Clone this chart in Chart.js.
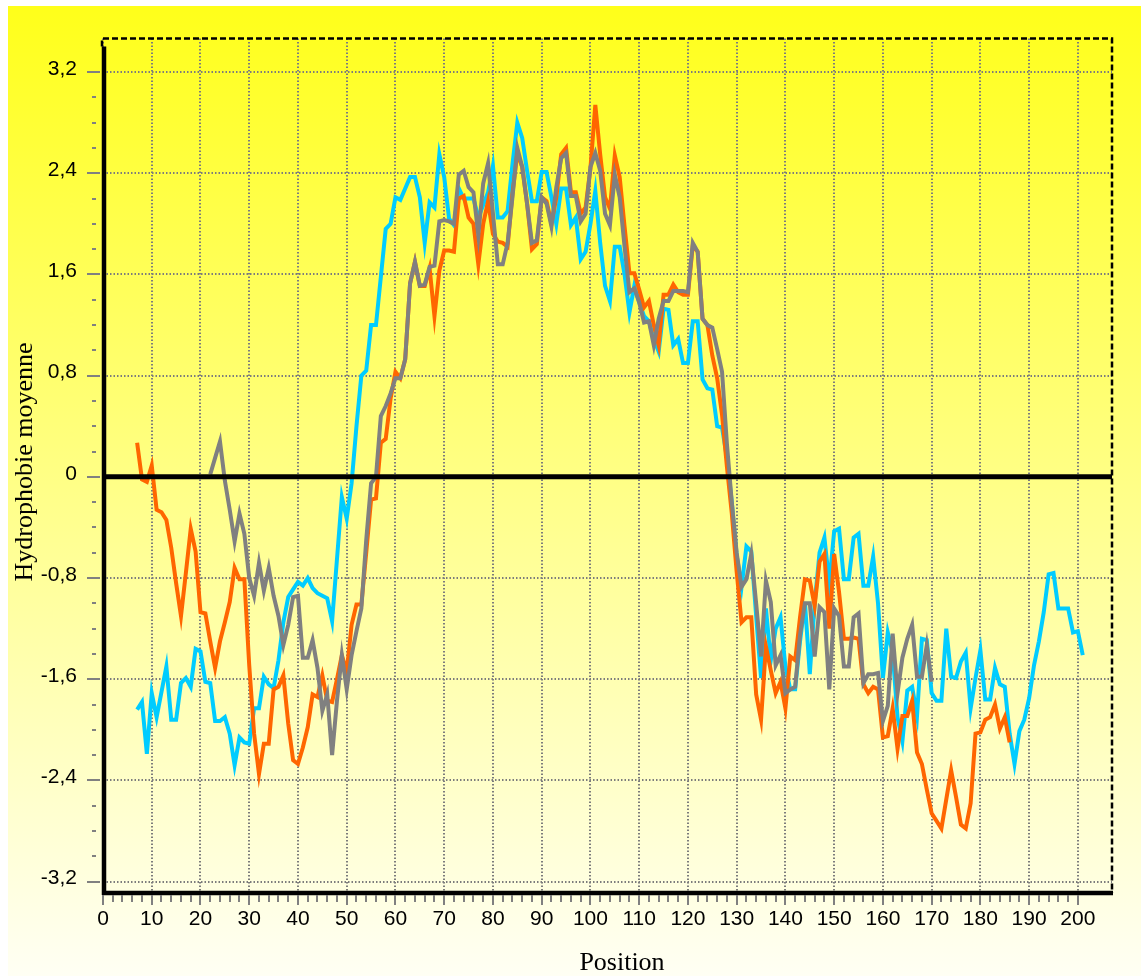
<!DOCTYPE html>
<html lang="fr">
<head>
<meta charset="utf-8">
<title>Hydrophobie moyenne</title>
<script src="https://cdn.jsdelivr.net/npm/chart.js@4.4.1/dist/chart.umd.min.js"></script>
<style>
    html, body { margin: 0; padding: 0; background: #fff; }
    #chart { display: block; }
</style>
</head>
<body>
<canvas id="chart" width="1141" height="976"></canvas>
<script>
// hydrophobicity profiles, one value per residue position
const orangeStart = 7;
const orangeValues = [
    0.27, -0.02, -0.04, 0.09, -0.26, -0.28, -0.34, -0.56, -0.84, -1.10,
    -0.76, -0.41, -0.59, -1.07, -1.08, -1.30, -1.51, -1.30, -1.15, -0.99,
    -0.72, -0.81, -0.81, -1.49, -2.03, -2.35, -2.11, -2.11, -1.68, -1.66,
    -1.57, -1.95, -2.24, -2.27, -2.14, -1.98, -1.72, -1.74, -1.57, -1.77,
    -1.78, -1.60, -1.41, -1.54, -1.17, -1.01, -1.01, -0.60, -0.18, -0.17,
    0.27, 0.30, 0.62, 0.83, 0.78, 0.93, 1.53, 1.70, 1.51, 1.51,
    1.65, 1.27, 1.63, 1.79, 1.79, 1.78, 2.20, 2.22, 2.05, 2.00,
    1.68, 2.00, 2.18, 1.92, 1.86, 1.85, 1.82, 2.24, 2.56, 2.45,
    2.16, 1.80, 1.84, 2.21, 2.18, 2.00, 2.21, 2.55, 2.60, 2.25,
    2.25, 2.08, 2.13, 2.44, 2.94, 2.55, 2.21, 2.12, 2.54, 2.37,
    1.98, 1.61, 1.61, 1.48, 1.34, 1.39, 1.20, 1.04, 1.44, 1.44,
    1.52, 1.46, 1.44, 1.44, 1.83, 1.78, 1.25, 1.20, 0.96, 0.78,
    0.49, 0.08, -0.29, -0.75, -1.15, -1.11, -1.11, -1.72, -1.92, -1.34,
    -1.53, -1.71, -1.62, -1.83, -1.42, -1.45, -1.11, -0.81, -0.82, -1.02,
    -0.67, -0.61, -1.20, -0.61, -0.91, -1.28, -1.28, -1.27, -1.28, -1.64,
    -1.71, -1.66, -1.68, -2.06, -2.05, -1.83, -2.15, -1.89, -1.89, -1.77,
    -2.18, -2.27, -2.47, -2.66, -2.72, -2.78, -2.55, -2.32, -2.53, -2.75,
    -2.78, -2.58, -2.03, -2.02, -1.92, -1.90, -1.80, -1.99, -1.90, -2.10
];

const cyanStart = 7;
const cyanValues = [
    -1.84, -1.78, -2.19, -1.71, -1.90, -1.70, -1.50, -1.92, -1.92, -1.63,
    -1.59, -1.66, -1.36, -1.38, -1.62, -1.63, -1.93, -1.93, -1.90, -2.03,
    -2.28, -2.06, -2.10, -2.11, -1.83, -1.83, -1.58, -1.64, -1.67, -1.45,
    -1.15, -0.95, -0.89, -0.83, -0.86, -0.80, -0.88, -0.92, -0.94, -0.96,
    -1.14, -0.65, -0.16, -0.33, -0.05, 0.40, 0.80, 0.84, 1.20, 1.20,
    1.58, 1.96, 2.00, 2.21, 2.19, 2.28, 2.37, 2.37, 2.21, 1.85,
    2.17, 2.13, 2.55, 2.37, 2.04, 1.99, 2.28, 2.20, 2.20, 2.20,
    2.05, 2.15, 2.25, 2.46, 2.05, 2.05, 2.10, 2.47, 2.80, 2.68,
    2.42, 2.18, 2.18, 2.41, 2.41, 2.21, 2.00, 2.28, 2.28, 1.99,
    2.05, 1.72, 1.78, 2.00, 2.26, 1.85, 1.51, 1.39, 1.82, 1.82,
    1.60, 1.30, 1.51, 1.38, 1.27, 1.23, 1.09, 0.99, 1.33, 1.32,
    1.04, 1.09, 0.90, 0.90, 1.23, 1.23, 0.77, 0.70, 0.69, 0.40,
    0.39, 0.15, -0.20, -0.62, -0.87, -0.55, -0.59, -1.10, -1.59, -1.04,
    -1.45, -1.20, -1.11, -1.50, -1.68, -1.68, -1.30, -0.99, -1.56, -1.00,
    -0.60, -0.48, -0.84, -0.43, -0.41, -0.81, -0.81, -0.48, -0.45, -0.86,
    -0.86, -0.63, -1.00, -1.59, -1.23, -1.39, -1.90, -2.09, -1.69, -1.66,
    -1.89, -1.28, -1.29, -1.71, -1.77, -1.77, -1.20, -1.58, -1.59, -1.46,
    -1.39, -1.83, -1.59, -1.37, -1.76, -1.76, -1.51, -1.64, -1.66, -2.03,
    -2.27, -2.01, -1.92, -1.75, -1.49, -1.30, -1.07, -0.77, -0.76, -1.04,
    -1.04, -1.04, -1.23, -1.22, -1.41
];

const grayStart = 22;
const grayValues = [
    0.02, 0.15, 0.28, -0.03, -0.26, -0.51, -0.29, -0.45, -0.80, -0.94,
    -0.68, -0.90, -0.72, -0.94, -1.10, -1.33, -1.17, -0.95, -0.94, -1.43,
    -1.43, -1.29, -1.51, -1.85, -1.72, -2.20, -1.77, -1.41, -1.68, -1.41,
    -1.22, -1.04, -0.50, -0.05, 0.00, 0.48, 0.56, 0.66, 0.78, 0.78,
    0.93, 1.53, 1.70, 1.51, 1.52, 1.66, 1.67, 2.02, 2.03, 2.02,
    2.00, 2.39, 2.42, 2.29, 2.25, 1.91, 2.32, 2.48, 2.08, 1.68,
    1.68, 1.85, 2.21, 2.60, 2.45, 2.16, 1.85, 1.87, 2.21, 2.16,
    1.98, 2.29, 2.52, 2.56, 2.22, 2.22, 2.02, 2.08, 2.45, 2.56,
    2.42, 2.08, 1.99, 2.39, 2.21, 1.82, 1.46, 1.49, 1.38, 1.22,
    1.23, 1.04, 1.25, 1.39, 1.39, 1.47, 1.47, 1.47, 1.46, 1.85,
    1.78, 1.25, 1.20, 1.18, 1.01, 0.83, 0.26, -0.20, -0.60, -0.87,
    -0.81, -0.61, -1.00, -1.42, -0.82, -0.99, -1.49, -1.41, -1.71, -1.68,
    -1.66, -1.25, -1.00, -1.00, -1.42, -1.03, -1.07, -1.68, -1.04, -1.10,
    -1.50, -1.50, -1.11, -1.08, -1.63, -1.56, -1.56, -1.55, -1.93, -1.81,
    -1.24, -1.71, -1.43, -1.28, -1.17, -1.58, -1.58, -1.33, -1.62
];

const xTicks = [0, 10, 20, 30, 40, 50, 60, 70, 80, 90, 100, 110, 120, 130, 140, 150, 160, 170, 180, 190, 200];
const yTicks = [-3.2, -2.4, -1.6, -0.8, 0, 0.8, 1.6, 2.4, 3.2];

const toPoints = (start, values) => values.map((v, i) => ({ x: start + i, y: v }));
const frLabel = (v) => v === 0 ? '0' : v.toFixed(1).replace('.', ',');

// yellow gradient behind everything
const backdrop = {
    id: 'backdrop',
    beforeDraw(chart) {
        const { ctx, width, height } = chart;
        ctx.save();
        ctx.fillStyle = '#ffffff';
        ctx.fillRect(0, 0, width, height);
        const grad = ctx.createLinearGradient(0, 6, 0, height);
        grad.addColorStop(0, '#ffff1a');
        grad.addColorStop(0.5, '#ffff88');
        grad.addColorStop(1, '#fffff4');
        ctx.fillStyle = grad;
        ctx.fillRect(8, 6, width - 8, height - 6);
        ctx.restore();
    }
};

// zero line, frame, axis lines, tick marks and axis titles
const frame = {
    id: 'frame',
    afterDraw(chart) {
        const { ctx, chartArea: a, scales: { x, y } } = chart;
        ctx.save();

        const y0 = y.getPixelForValue(0);
        ctx.strokeStyle = '#000';
        ctx.lineWidth = 5;
        ctx.beginPath();
        ctx.moveTo(a.left, y0);
        ctx.lineTo(a.right, y0);
        ctx.stroke();

        ctx.lineWidth = 2.5;
        ctx.setLineDash([6, 3]);
        ctx.beginPath();
        ctx.moveTo(a.left - 1, a.top + 8);
        ctx.lineTo(a.left - 1, a.top);
        ctx.lineTo(a.right, a.top);
        ctx.lineTo(a.right, a.bottom);
        ctx.stroke();
        ctx.setLineDash([]);

        ctx.lineWidth = 4.5;
        ctx.beginPath();
        ctx.moveTo(a.left + 1, a.top + 8);
        ctx.lineTo(a.left + 1, a.bottom + 2);
        ctx.moveTo(a.left - 1, a.bottom);
        ctx.lineTo(a.right + 1, a.bottom);
        ctx.stroke();

        // tick marks
        ctx.strokeStyle = '#808080';
        ctx.lineWidth = 2;
        ctx.beginPath();
        for (let v = 0; v <= 200; v += 2) {
            const px = Math.round(x.getPixelForValue(v));
            ctx.moveTo(px, a.bottom + 2);
            ctx.lineTo(px, a.bottom + (v % 10 === 0 ? 12 : 9));
        }
        for (let k = -16; k <= 16; k++) {
            const py = Math.round(y.getPixelForValue(k * 0.2));
            if (k % 4 === 0) {
                ctx.moveTo(a.left - 16, py);
                ctx.lineTo(a.left - 3, py);
            } else {
                ctx.moveTo(a.left - 11, py);
                ctx.lineTo(a.left - 7, py);
            }
        }
        ctx.stroke();

        // axis titles
        ctx.fillStyle = '#000';
        ctx.font = '26px "Liberation Serif", "Times New Roman", serif';
        ctx.textAlign = 'center';
        ctx.textBaseline = 'alphabetic';
        ctx.fillText('Position', 622, 970);
        ctx.translate(32, 462);
        ctx.rotate(-Math.PI / 2);
        ctx.fillText('Hydrophobie moyenne', 0, 0);

        ctx.restore();
    }
};

const tickFont = { family: '"Liberation Sans", Arial, sans-serif', size: 21 };
const gridStyle = { color: '#7c7c7c', lineWidth: 2, drawTicks: false };

const chart = document.querySelector('#chart').getContext('2d');

new Chart(chart, {
    type: 'line',
    data: {
        datasets: [
            {
                label: 'gris',
                data: toPoints(grayStart, grayValues),
                borderColor: '#808080',
                borderWidth: 4
            },
            {
                label: 'orange',
                data: toPoints(orangeStart, orangeValues),
                borderColor: '#ff6600',
                borderWidth: 4
            },
            {
                label: 'cyan',
                data: toPoints(cyanStart, cyanValues),
                borderColor: '#00ccff',
                borderWidth: 4
            }
        ]
    },
    options: {
        responsive: false,
        animation: false,
        devicePixelRatio: 1,
        layout: { padding: { top: 32, right: 29, bottom: 0, left: 0 } },
        elements: {
            point: { radius: 0 },
            line: { tension: 0 }
        },
        plugins: {
            legend: { display: false },
            tooltip: { enabled: false }
        },
        scales: {
            x: {
                type: 'linear',
                min: 0,
                max: 207,
                afterBuildTicks: (axis) => { axis.ticks = xTicks.map(v => ({ value: v })); },
                afterFit: (axis) => { axis.height = 83; },
                grid: gridStyle,
                border: { display: false, dash: [1.5, 2] },
                ticks: {
                    autoSkip: false,
                    maxRotation: 0,
                    padding: 14,
                    color: '#000',
                    font: tickFont,
                    callback: (v) => String(v)
                }
            },
            y: {
                min: -3.29,
                max: 3.465,
                afterBuildTicks: (axis) => { axis.ticks = yTicks.map(v => ({ value: v })); },
                afterFit: (axis) => { axis.width = 103; },
                grid: gridStyle,
                border: { display: false, dash: [1.5, 2] },
                ticks: {
                    padding: 26,
                    labelOffset: -3,
                    color: '#000',
                    font: tickFont,
                    callback: frLabel
                }
            }
        }
    },
    plugins: [backdrop, frame]
})
</script>
</body>
</html>
